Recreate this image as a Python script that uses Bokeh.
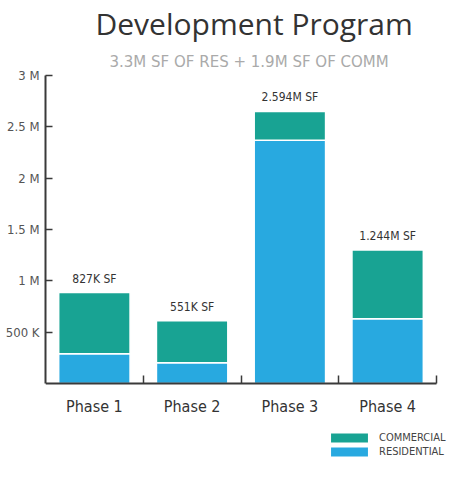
from bokeh.plotting import figure
from bokeh.models import (Range1d, FixedTicker, Title, Legend, LegendItem, ColumnDataSource)
from bokeh.core.properties import value
from bokeh.embed import file_html
from bokeh.resources import INLINE

phases = ["Phase 1", "Phase 2", "Phase 3", "Phase 4"]
residential = [290000, 200000, 2370000, 630000]
commercial = [595000, 410000, 280000, 670000]
bar_labels = ["827K SF", "551K SF", "2.594M SF", "1.244M SF"]
y_ticks = [500000, 1000000, 1500000, 2000000, 2500000, 3000000]
y_tick_labels = ["500 K", "1 M", "1.5 M", "2 M", "2.5 M", "3 M"]

COMM = "#18a393"
RES = "#28a9e0"
NARROW = "DejaVu Sans Condensed"

xs = [i + 1 for i in range(len(phases))]
totals = [r + c for r, c in zip(residential, commercial)]
src = ColumnDataSource(dict(x=xs, res=residential, comm=commercial,
                            total=totals, label=bar_labels))

p = figure(width=452, height=469, output_backend="svg", toolbar_location=None,
           x_range=Range1d(0.5, 4.643), y_range=Range1d(-800000, 3000000),
           min_border_left=45, min_border_right=2, min_border_bottom=4,
           min_border_top=5)
p.outline_line_color = None
p.grid.grid_line_color = None
p.background_fill_color = "white"

r_res = p.vbar(x="x", bottom=0, top="res", width=0.73, source=src,
               fill_color=RES, line_color="white", line_width=1.5)
r_comm = p.vbar(x="x", bottom="res", top="total", width=0.73, source=src,
                fill_color=COMM, line_color="white", line_width=1.5)

p.text(x="x", y="total", text="label", source=src, y_offset=-7,
       text_align="center", text_baseline="bottom",
       text_font=value(NARROW), text_font_size="12px", text_color="#333333")

# axes
p.yaxis.ticker = FixedTicker(ticks=y_ticks)
p.yaxis.bounds = (0, 3000000)
p.yaxis.major_label_overrides = {t: l for t, l in zip(y_ticks, y_tick_labels)}
p.yaxis.major_tick_in = 7
p.yaxis.major_tick_out = 0
p.yaxis.minor_tick_line_color = None
p.yaxis.axis_line_color = "#3a3a3a"
p.yaxis.axis_line_width = 2
p.yaxis.major_tick_line_color = "#3a3a3a"
p.yaxis.major_tick_line_width = 1.5
p.yaxis.major_label_text_font = NARROW
p.yaxis.major_label_text_font_size = "13px"
p.yaxis.major_label_text_color = "#555555"
p.yaxis.major_label_standoff = 6

p.xaxis.fixed_location = 0
p.xaxis.bounds = (0.5, 4.5)
p.xaxis.ticker = FixedTicker(ticks=xs, minor_ticks=[1.5, 2.5, 3.5, 4.5])
p.xaxis.major_label_overrides = {x: ph for x, ph in zip(xs, phases)}
p.xaxis.major_tick_line_color = None
p.xaxis.minor_tick_in = 8
p.xaxis.minor_tick_out = 0
p.xaxis.minor_tick_line_color = "#3a3a3a"
p.xaxis.minor_tick_line_width = 1.5
p.xaxis.axis_line_color = "#3a3a3a"
p.xaxis.axis_line_width = 2
p.xaxis.major_label_text_font = NARROW
p.xaxis.major_label_text_font_size = "16px"
p.xaxis.major_label_text_color = "#333333"
p.xaxis.major_label_standoff = 8

# titles
p.title.text = "Development Program"
p.title.align = "left"
p.title.offset = 50
p.title.text_font = "Open Sans"
p.title.text_font_size = "30px"
p.title.text_font_style = "normal"
p.title.text_color = "#333333"
p.title.standoff = 0
sub = Title(text="3.3M SF OF RES + 1.9M SF OF COMM", align="left", offset=64,
            text_font=NARROW, text_font_size="16.7px",
            text_font_style="normal", text_color="#aaaaaa", standoff=10)
p.add_layout(sub, "above")

legend = Legend(items=[LegendItem(label="COMMERCIAL", renderers=[r_comm]),
                       LegendItem(label="RESIDENTIAL", renderers=[r_res])],
                location=(280, 7), orientation="vertical",
                glyph_width=48, glyph_height=13, label_height=13,
                spacing=1, padding=0, margin=0, label_standoff=6,
                background_fill_alpha=0, border_line_color=None,
                label_text_font=NARROW, label_text_font_size="11px",
                label_text_color="#444444")
p.add_layout(legend, "center")

open("out.html", "w").write(file_html(p, INLINE))
